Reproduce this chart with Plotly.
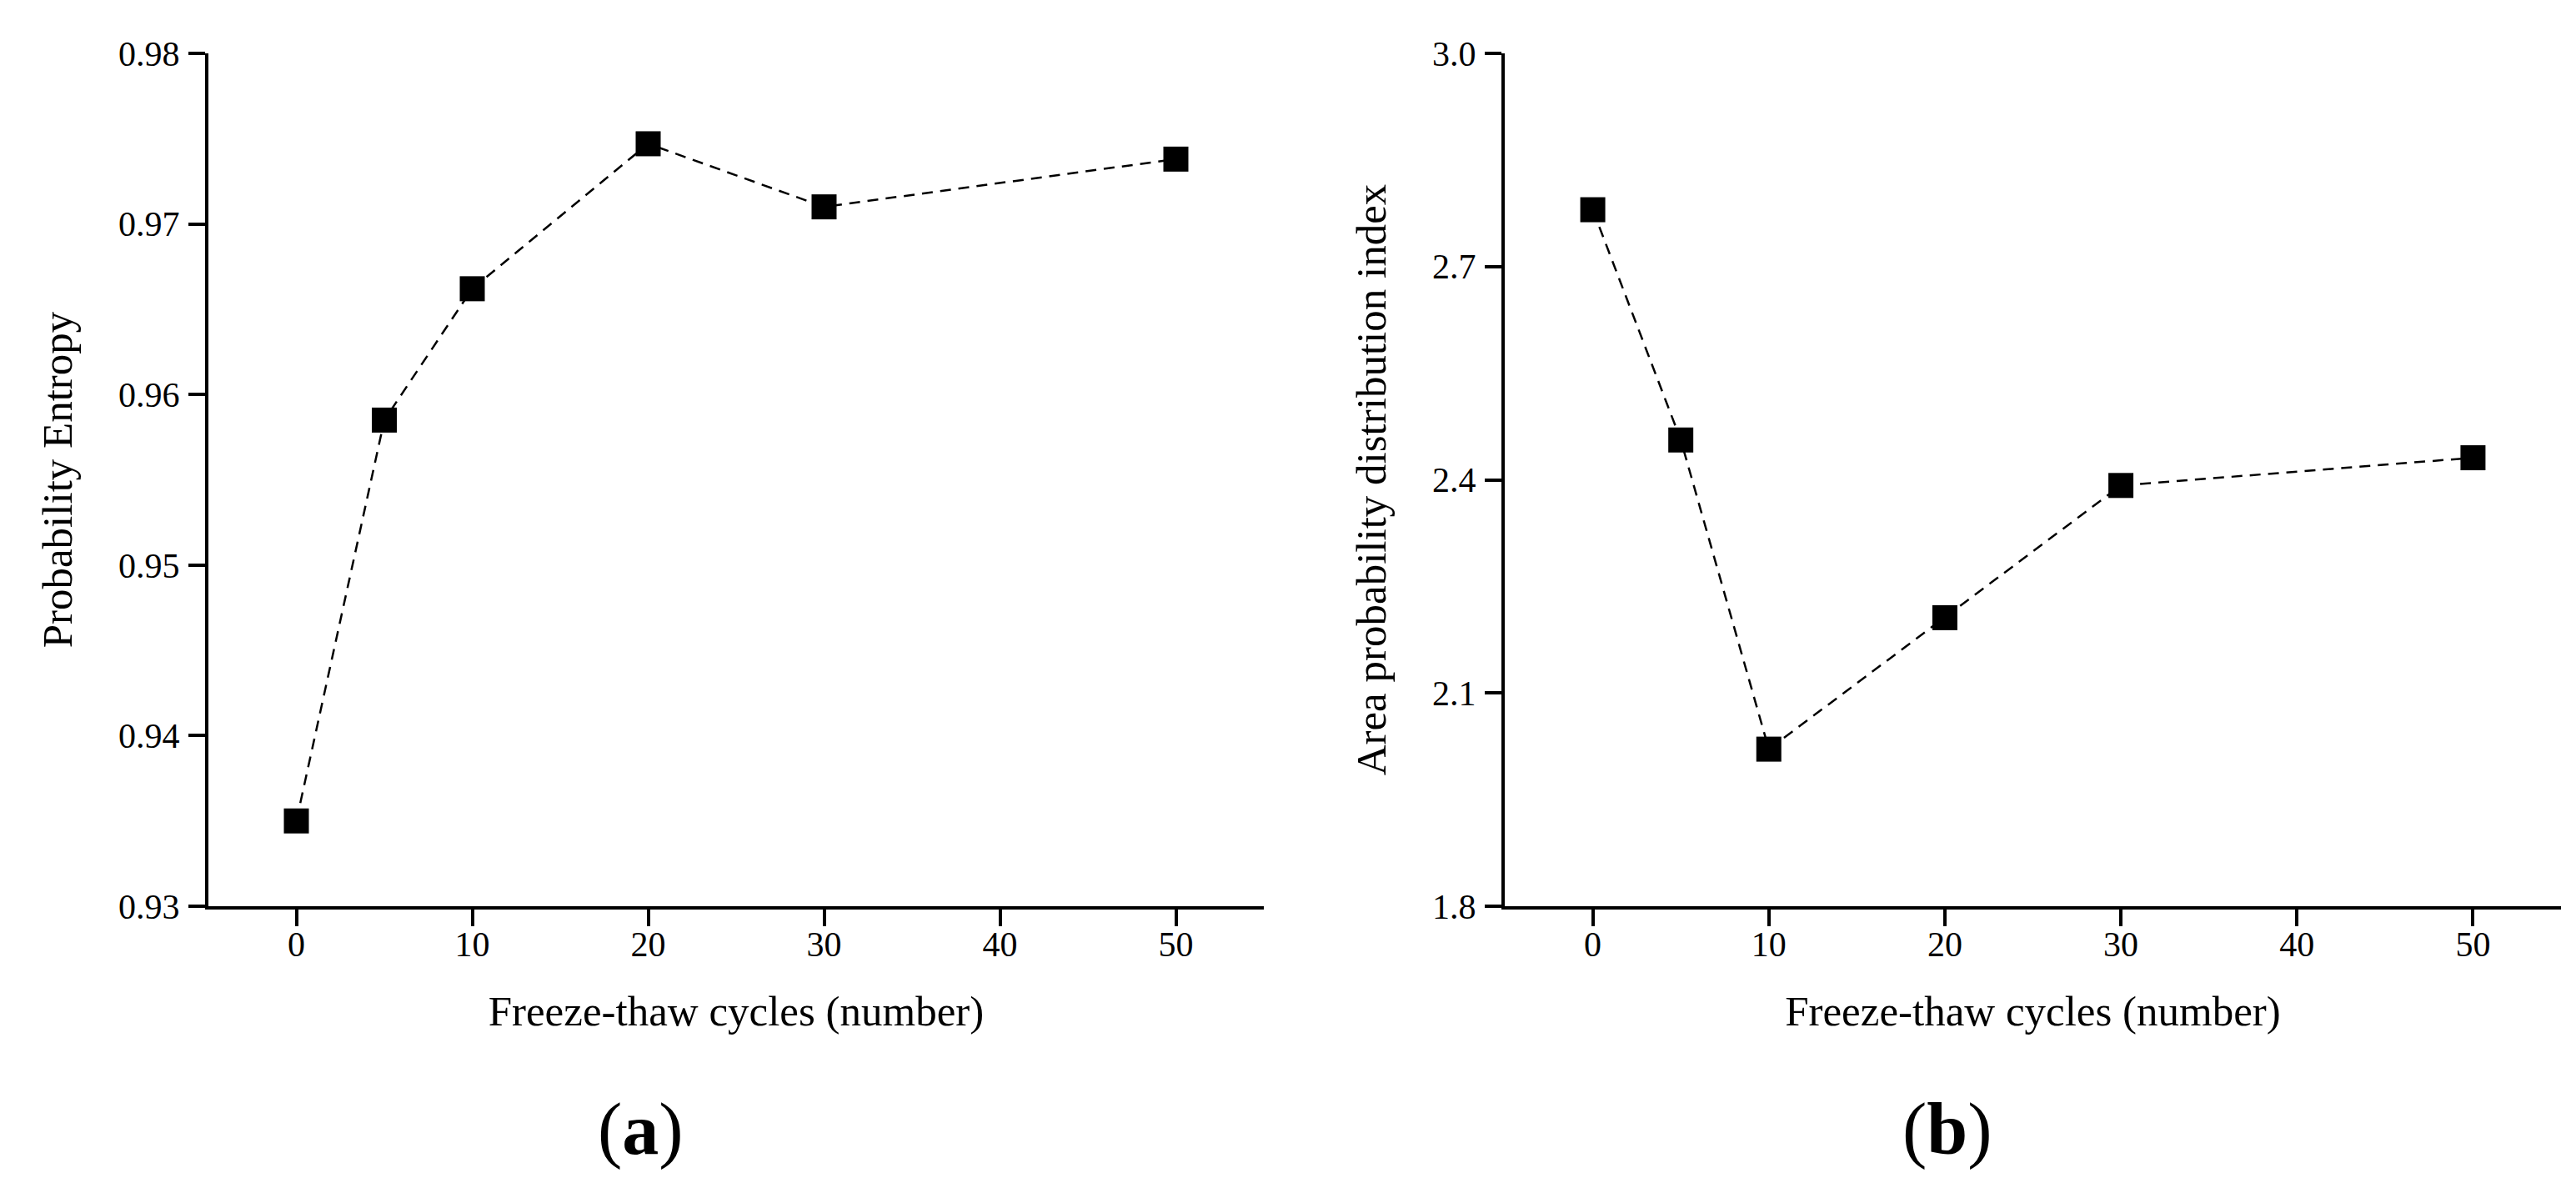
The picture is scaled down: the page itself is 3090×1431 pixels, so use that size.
import plotly.graph_objects as go

CYCLES = [0, 5, 10, 20, 30, 50]
PROBABILITY_ENTROPY = [0.9350, 0.9585, 0.9662, 0.9747, 0.9710, 0.9738]
AREA_INDEX = [2.780, 2.456, 2.021, 2.206, 2.392, 2.431]

X_TICKS = [0, 10, 20, 30, 40, 50]
ENTROPY_TICKS = [0.93, 0.94, 0.95, 0.96, 0.97, 0.98]
INDEX_TICKS = [1.8, 2.1, 2.4, 2.7, 3.0]

X_TITLE = "Freeze-thaw cycles (number)"
Y_TITLES = ["Probability Entropy", "Area probability distribution index"]
PANEL_LABELS = ["(<b>a</b>)", "(<b>b</b>)"]

FONT = "Liberation Serif, Times New Roman, serif"
W, H = 3090, 1431


def add_series(fig, x, y, axis_suffix):
    fig.add_trace(go.Scatter(
        x=x,
        y=y,
        mode="lines+markers",
        line={"color": "black", "width": 2.5, "dash": "13px,9px"},
        marker={"symbol": "square", "size": 30, "color": "black"},
        xaxis="x" + axis_suffix,
        yaxis="y" + axis_suffix,
        showlegend=False,
    ))


def x_axis(domain, anchor):
    return dict(
        domain=domain,
        anchor=anchor,
        range=[-5, 55],
        tickvals=X_TICKS,
        showline=True,
        linecolor="black",
        linewidth=4,
        ticks="outside",
        ticklen=20,
        tickwidth=4,
        tickcolor="black",
        ticklabelstandoff=-14,
        showgrid=False,
        zeroline=False,
        tickfont={"size": 42},
        title={"text": X_TITLE, "font": {"size": 51}, "standoff": 40},
        automargin=False,
    )


def y_axis(domain, anchor, yrange, ticks, fmt, title):
    return dict(
        domain=domain,
        anchor=anchor,
        range=yrange,
        tickvals=ticks,
        tickformat=fmt,
        showline=True,
        linecolor="black",
        linewidth=4,
        ticks="outside",
        ticklen=20,
        tickwidth=4,
        tickcolor="black",
        ticklabelstandoff=2,
        showgrid=False,
        zeroline=False,
        tickfont={"size": 42},
        title={"text": title, "font": {"size": 51}, "standoff": 40},
        automargin=False,
    )


fig = go.Figure()
add_series(fig, CYCLES, PROBABILITY_ENTROPY, "")
add_series(fig, CYCLES, AREA_INDEX, "2")

y_dom = [1 - 1079 / H, 1 - 56 / H]
fig.update_layout(
    width=W,
    height=H,
    margin={"l": 0, "r": 0, "t": 0, "b": 0},
    paper_bgcolor="white",
    plot_bgcolor="white",
    font={"family": FONT, "color": "black"},
    xaxis=x_axis([242 / W, 1508 / W], "y"),
    yaxis=y_axis(y_dom, "x", [0.93, 0.98], ENTROPY_TICKS, ".2f", Y_TITLES[0]),
    xaxis2=x_axis([1797 / W, 3064 / W], "y2"),
    yaxis2=y_axis(y_dom, "x2", [1.8, 3.0], INDEX_TICKS, ".1f", Y_TITLES[1]),
)

for label, xc in zip(PANEL_LABELS, [760, 2328]):
    fig.add_annotation(
        text=label,
        x=xc / W,
        y=1 - 1346 / H,
        xref="paper",
        yref="paper",
        xanchor="center",
        yanchor="middle",
        showarrow=False,
        font={"size": 88},
    )

fig.write_html("out.html")
